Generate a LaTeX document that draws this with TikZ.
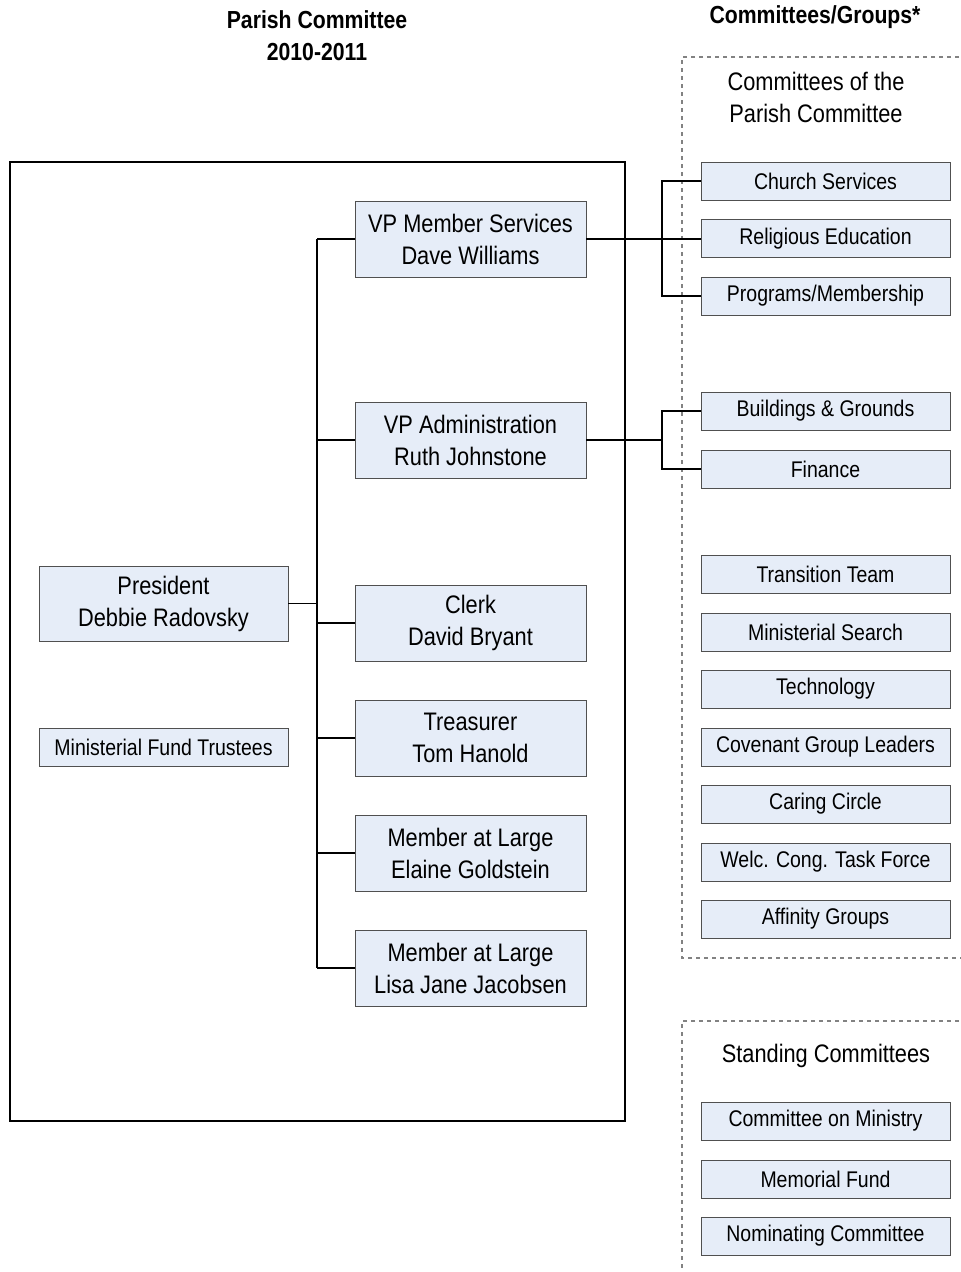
\documentclass[tikz,border=0pt]{standalone}
\usepackage{fontspec}
\setmainfont[FakeStretch=0.86]{Liberation Sans}
\definecolor{boxfill}{RGB}{230,237,248}
\definecolor{boxline}{RGB}{80,80,80}
\definecolor{dashgray}{RGB}{130,130,130}
\begin{document}
\begin{tikzpicture}[x=0.75pt,y=-0.75pt,
  bigbox/.style={draw=boxline,fill=boxfill,minimum width=173.25pt,minimum height=57pt,align=center,inner sep=0pt,font=\fontsize{19}{24}\selectfont},
  smallbox/.style={draw=boxline,fill=boxfill,minimum width=186.75pt,minimum height=28.5pt,align=center,inner sep=0pt,font=\fontsize{17}{20}\selectfont},
  title/.style={align=center,font=\bfseries\fontsize{18.5}{24}\selectfont},
  heading/.style={align=center,font=\fontsize{19}{24}\selectfont},
  conn/.style={draw=black,line width=0.8pt},
  dashbox/.style={draw=dashgray,dashed,line width=0.8pt}]
\useasboundingbox (0,0) rectangle (961,1272);
% titles
\node[title] (t1) at (317,36) {Parish Committee\\2010-2011};
\node[title] (t2) at (815,17) {Committees/Groups*};
% main frame
\draw[line width=0.8pt] (10,162) rectangle (625,1121);
% dashed groups
\draw[dashbox] (975,57) -- (682,57) -- (682,958) -- (975,958);
\draw[dashbox] (975,1021) -- (682,1021) -- (682,1285);
\node[heading] (h1) at (816,97) {Committees of the\\Parish Committee};
\node[heading] (h2) at (826,1056) {Standing Committees};
% left boxes
\node[bigbox,minimum width=186.75pt,minimum height=56.25pt] (pres) at (163.5,603.5) {President\\Debbie Radovsky};
\node[smallbox] (mft) at (163.5,747) {Ministerial Fund Trustees};
% officer boxes
\node[bigbox] (vpms) at (470.5,239) {VP Member Services\\Dave Williams};
\node[bigbox] (vpad) at (470.5,440) {VP Administration\\Ruth Johnstone};
\node[bigbox] (clerk) at (470.5,623) {Clerk\\David Bryant};
\node[bigbox] (treas) at (470.5,738) {Treasurer\\Tom Hanold};
\node[bigbox] (mal1) at (470.5,853) {Member at Large\\Elaine Goldstein};
\node[bigbox] (mal2) at (470.5,968) {Member at Large\\Lisa Jane Jacobsen};
% committee boxes
\node[smallbox] (cs) at (825.5,181) {Church Services};
\node[smallbox] (re) at (825.5,238.5) {Religious Education};
\node[smallbox] (pm) at (825.5,296) {Programs/Membership};
\node[smallbox] (bg) at (825.5,411) {Buildings \& Grounds};
\node[smallbox] (fin) at (825.5,469) {Finance};
\node[smallbox] (tt) at (825.5,574) {Transition Team};
\node[smallbox] (ms) at (825.5,632) {Ministerial Search};
\node[smallbox] (tech) at (825.5,689) {Technology};
\node[smallbox] (cgl) at (825.5,747) {Covenant Group Leaders};
\node[smallbox] (cc) at (825.5,804) {Caring Circle};
\node[smallbox] (wc) at (825.5,862) {Welc. Cong. Task Force};
\node[smallbox] (ag) at (825.5,919) {Affinity Groups};
\node[smallbox] (com) at (825.5,1121) {Committee on Ministry};
\node[smallbox] (mf) at (825.5,1179) {Memorial Fund};
\node[smallbox] (nc) at (825.5,1236) {Nominating Committee};
% trunk
\coordinate (trtop) at (317,239);
\coordinate (trbot) at (317,968);
\draw[conn] (trtop) -- (trbot);
\draw[conn] (pres.east) -- (pres.east -| trtop);
\foreach \n in {vpms,vpad,clerk,treas,mal1,mal2}{
  \draw[conn] (\n.west -| trtop) -- (\n.west);
}
% brackets
\coordinate (b1) at (662,239);
\draw[conn] (vpms.east) -- (vpms.east -| re.west);
\draw[conn] (cs.west) -- (cs.west -| b1) -- (pm.west -| b1) -- (pm.west);
\coordinate (b2) at (662,440);
\draw[conn] (vpad.east) -- (b2);
\draw[conn] (bg.west) -- (bg.west -| b2) -- (fin.west -| b2) -- (fin.west);
\end{tikzpicture}
\end{document}
